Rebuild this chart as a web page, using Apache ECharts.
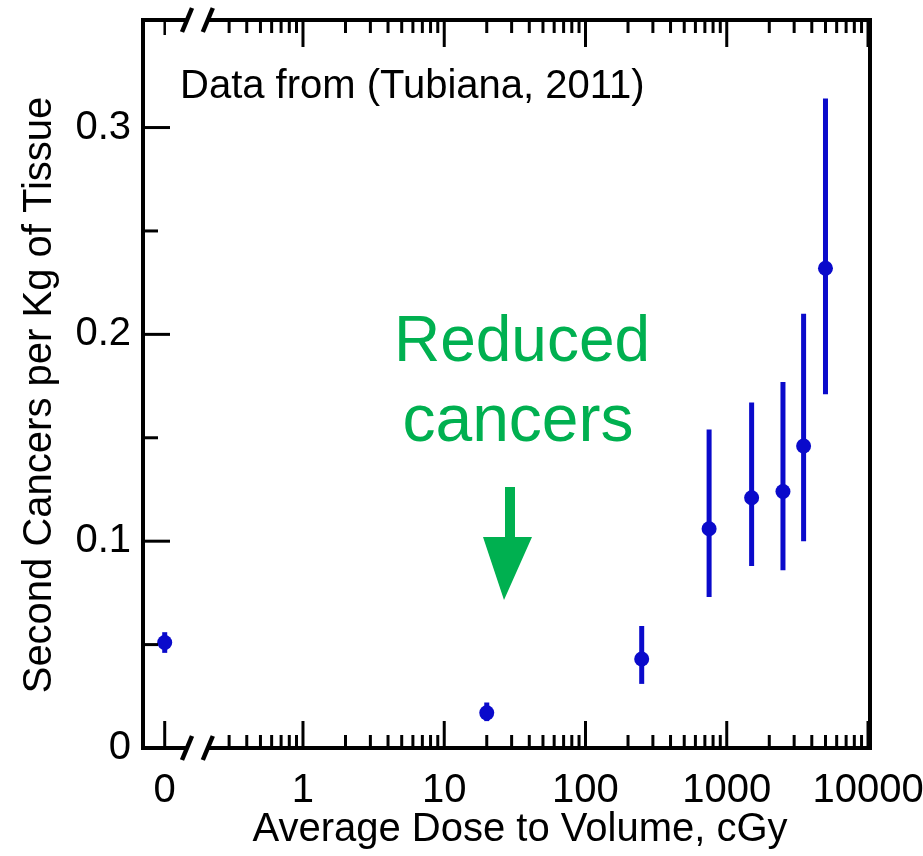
<!DOCTYPE html>
<html>
<head>
<meta charset="utf-8">
<script src="https://cdn.jsdelivr.net/npm/echarts@6/dist/echarts.min.js"></script>
<style>
html,body{margin:0;padding:0;background:#fff;}
#chart{width:923px;height:856px;}
</style>
</head>
<body>
<div id="chart"></div>
<script>
// ---- data ----
const doses    = [0, 20, 250, 750, 1500, 2500, 3500, 5000];           // cGy
const cancers  = [0.051, 0.017, 0.043, 0.106, 0.121, 0.124, 0.146, 0.232];
const errLow   = [0.046, 0.013, 0.031, 0.073, 0.088, 0.086, 0.100, 0.171];
const errHigh  = [0.056, 0.022, 0.059, 0.154, 0.167, 0.177, 0.210, 0.314];

// ---- axis description ----
const ZERO_AT = 0.105;               // where dose "0" sits on the broken log axis
const X_MIN = 0.0737, X_MAX = 10330;
const Y_MIN = 0, Y_MAX = 0.352;
const BREAK_LEFT = 0.151, BREAK_RIGHT = 0.212;
const xMajorTicks = [1, 10, 100, 1000, 10000];
const xMinorTicks = [0.3,0.4,0.5,0.6,0.7,0.8,0.9,
                     2,3,4,5,6,7,8,9,
                     20,30,40,50,60,70,80,90,
                     200,300,400,500,600,700,800,900,
                     2000,3000,4000,5000,6000,7000,8000,9000];
const xTickLabels = ['0', '1', '10', '100', '1000', '10000'];
const xTickLabelValues = [0, 1, 10, 100, 1000, 10000];
const yMajorTicks = [0.1, 0.2, 0.3];
const yMinorTicks = [0.05, 0.15, 0.25];
const yTickLabels = ['0', '0.1', '0.2', '0.3'];
const yTickLabelValues = [0, 0.1, 0.2, 0.3];

const FONT = "'Liberation Sans', Arial, Helvetica, sans-serif";
const BLUE = '#0a0acb';
const GREEN = '#00b050';
const posX = d => (d === 0 ? ZERO_AT : d);

const chart = echarts.init(document.getElementById('chart'), null, {renderer: 'canvas'});

function frameRender(params, api) {
  const P = (x, y) => api.coord([x, y]);
  const left = P(X_MIN, 0)[0], right = P(X_MAX, 0)[0];
  const bottom = P(X_MIN, Y_MIN)[1], top = P(X_MIN, Y_MAX)[1];
  const b1 = P(BREAK_LEFT, 0)[0], b2 = P(BREAK_RIGHT, 0)[0];
  const ch = [];
  const line = (x1, y1, x2, y2, w) => ch.push({type: 'line', shape: {x1, y1, x2, y2},
    style: {stroke: '#000', lineWidth: w, lineCap: 'butt'}});
  // frame
  line(left, top - 2, left, bottom + 2, 4);
  line(right, top - 2, right, bottom + 2, 4);
  line(left - 2, bottom, b1, bottom, 4);
  line(b2, bottom, right + 2, bottom, 4);
  line(left - 2, top, b1, top, 4);
  line(b2, top, right + 2, top, 4);
  // break marks
  [b1, b2].forEach(bx => {
    line(bx - 5, bottom + 12, bx + 5, bottom - 12, 4.5);
    line(bx - 5, top + 12, bx + 5, top - 12, 4.5);
  });
  // x ticks
  const zx = P(ZERO_AT, 0)[0];
  line(zx, bottom, zx, bottom - 27, 3);
  line(zx, top, zx, top + 15, 2.5);
  xMajorTicks.forEach(v => {
    const x = P(v, 0)[0];
    line(x, bottom, x, bottom - 27, 3);
    line(x, top, x, top + 27, 3);
  });
  xMinorTicks.forEach(v => {
    const x = P(v, 0)[0];
    line(x, bottom, x, bottom - 13, 3);
    line(x, top, x, top + 13, 3);
  });
  // y ticks
  yMajorTicks.forEach(v => {
    const y = P(X_MIN, v)[1];
    line(left, y, left + 27, y, 3);
  });
  yMinorTicks.forEach(v => {
    const y = P(X_MIN, v)[1];
    line(left, y, left + 15, y, 3);
  });
  // tick labels
  xTickLabelValues.forEach((v, i) => {
    const x = P(posX(v), 0)[0];
    ch.push({type: 'text', x: x, y: bottom + 43,
      style: {text: xTickLabels[i], fill: '#000', font: '40px ' + FONT, align: 'center', verticalAlign: 'middle'}});
  });
  yTickLabelValues.forEach((v, i) => {
    const y = P(X_MIN, v)[1];
    ch.push({type: 'text', x: left - 12, y: y,
      style: {text: yTickLabels[i], fill: '#000', font: '40px ' + FONT, align: 'right', verticalAlign: 'middle'}});
  });
  return {type: 'group', children: ch};
}

function errRender(params, api) {
  const x = api.value(0);
  const lo = api.coord([x, api.value(1)]);
  const hi = api.coord([x, api.value(2)]);
  return {type: 'line', shape: {x1: lo[0], y1: lo[1], x2: hi[0], y2: hi[1]},
    style: {stroke: BLUE, lineWidth: 5}};
}

const option = {
  animation: false,
  backgroundColor: '#fff',
  grid: {left: 143, right: 53, top: 20, bottom: 108, containLabel: false},
  xAxis: {
    type: 'log', logBase: 10, min: X_MIN, max: X_MAX,
    axisLine: {show: false}, axisTick: {show: false}, axisLabel: {show: false}, splitLine: {show: false}
  },
  yAxis: {
    type: 'value', min: Y_MIN, max: Y_MAX,
    axisLine: {show: false}, axisTick: {show: false}, axisLabel: {show: false}, splitLine: {show: false}
  },
  graphic: [
    {type: 'text', x: 180, y: 87, style: {text: 'Data from (Tubiana, 2011)', fill: '#000',
      font: '40px ' + FONT, align: 'left', verticalAlign: 'middle'}},
    {type: 'text', x: 520, y: 830, style: {text: 'Average Dose to Volume, cGy', fill: '#000',
      font: '40px ' + FONT, align: 'center', verticalAlign: 'middle'}},
    {type: 'text', x: 40, y: 395, rotation: Math.PI / 2, style: {text: 'Second Cancers per Kg of Tissue', fill: '#000',
      font: '40px ' + FONT, align: 'center', verticalAlign: 'middle'}},
    {type: 'text', x: 522, y: 343, style: {text: 'Reduced', fill: GREEN,
      font: '64px ' + FONT, align: 'center', verticalAlign: 'middle'}},
    {type: 'text', x: 518, y: 423, style: {text: 'cancers', fill: GREEN,
      font: '66px ' + FONT, align: 'center', verticalAlign: 'middle'}},
    {type: 'polygon', shape: {points: [[505, 487], [515, 487], [515, 537], [532, 537], [504, 600], [483, 537], [505, 537]]},
      style: {fill: GREEN}}
  ],
  series: [
    {
      type: 'custom', name: 'frame', renderItem: frameRender, clip: false, silent: true,
      data: [[1, 0.1]], z: 10
    },
    {
      type: 'custom', name: 'errors', renderItem: errRender, silent: true, z: 3,
      data: doses.map((d, i) => [posX(d), errLow[i], errHigh[i]])
    },
    {
      type: 'scatter', name: 'Second cancers', symbol: 'circle', symbolSize: 15, z: 4,
      itemStyle: {color: BLUE, opacity: 1},
      data: doses.map((d, i) => [posX(d), cancers[i]])
    }
  ]
};
chart.setOption(option);
</script>
</body>
</html>
